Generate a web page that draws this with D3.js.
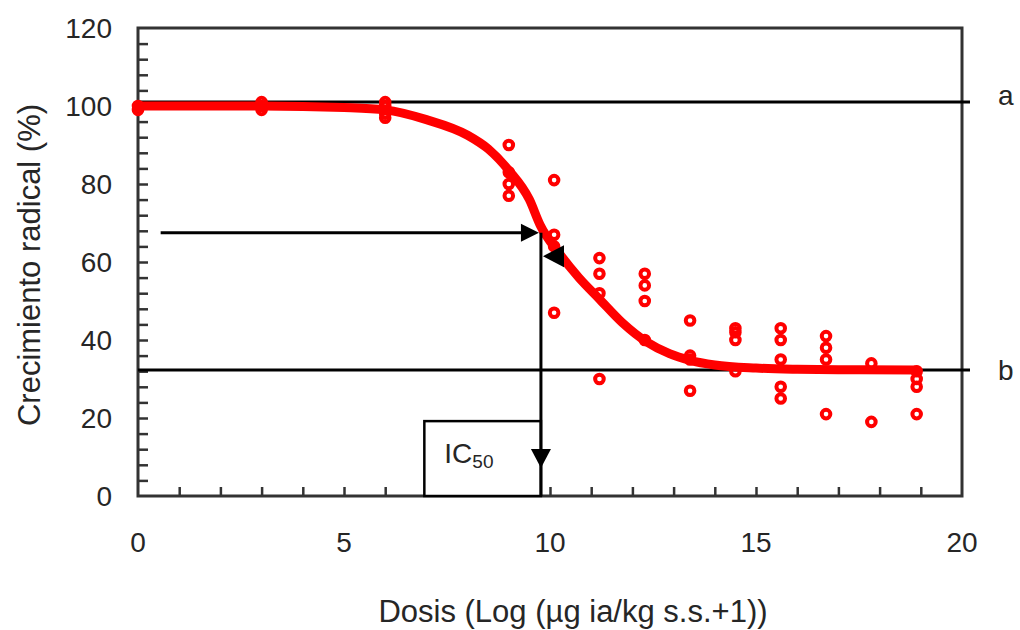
<!DOCTYPE html>
<html>
<head>
<meta charset="utf-8">
<script src="https://cdnjs.cloudflare.com/ajax/libs/d3/7.8.5/d3.min.js"></script>
<style>
  body { margin: 0; background: #fff; }
  svg text { font-family: "Liberation Sans", Arial, sans-serif; fill: #262626; }
</style>
</head>
<body>
<svg id="chart" width="1020" height="630"></svg>
<script>
var pointX = [0, 0, 3, 3, 3, 6, 6, 6, 6,
              9, 9, 9, 9,
              10.1, 10.1, 10.1, 10.1,
              11.2, 11.2, 11.2, 11.2,
              12.3, 12.3, 12.3, 12.3,
              13.4, 13.4, 13.4, 13.4,
              14.5, 14.5, 14.5, 14.5,
              15.6, 15.6, 15.6, 15.6, 15.6,
              16.7, 16.7, 16.7, 16.7,
              17.8, 17.8,
              18.9, 18.9, 18.9, 18.9];
var pointY = [100, 99, 101, 100, 99, 101, 100, 98, 97,
              90, 83, 80, 77,
              81, 67, 64, 47,
              61, 57, 52, 30,
              57, 54, 50, 40,
              45, 36, 35, 27,
              43, 42, 40, 32,
              43, 40, 35, 28, 25,
              41, 38, 35, 21,
              34, 19,
              32, 30, 28, 21];

// fitted dose-response curve
var curveX = [0, 3, 5, 6, 7, 8, 8.5, 9, 9.5, 9.76, 10.24, 10.7, 11.2, 11.75, 12.35, 12.9, 13.4, 14, 15, 16, 17, 18.9];
var curveY = [100, 100, 99.6, 99, 96.5, 92.5, 89, 83.5, 76, 69.5, 62, 56, 50.5, 44.5, 39.5, 36.5, 34.8, 33.6, 32.8, 32.5, 32.4, 32.3];

var xTicks = [0, 5, 10, 15, 20];
var yTicks = [0, 20, 40, 60, 80, 100, 120];

var levelA = 101, levelB = 32.3;
var ic50X = 9.78, ic50Y = 67.5;

var margin = {top: 28, right: 58, bottom: 134, left: 138},
    width = 1020 - margin.left - margin.right,
    height = 630 - margin.top - margin.bottom;

var svg = d3.select("#chart");
var g = svg.append("g")
  .attr("transform", "translate(" + margin.left + "," + margin.top + ")");

var x = d3.scaleLinear().domain([0, 20]).range([0, width]);
var y = d3.scaleLinear().domain([0, 120]).range([height, 0]);

// minor ticks inside the frame
g.append("g")
  .call(d3.axisBottom(x).tickValues(d3.range(1, 20)).tickSize(-9).tickFormat(""))
  .attr("transform", "translate(0," + height + ")")
  .call(function(a){ a.select(".domain").remove(); })
  .selectAll("line").attr("stroke", "#333").attr("stroke-width", 2.5);

g.append("g")
  .call(d3.axisLeft(y).tickValues(d3.range(4, 120, 4)).tickSize(-10).tickFormat(""))
  .call(function(a){ a.select(".domain").remove(); })
  .selectAll("line").attr("stroke", "#333").attr("stroke-width", 2.5);

// tick labels
g.selectAll(".xlab")
  .data(xTicks)
  .join("text")
    .attr("class", "xlab")
    .attr("x", function(d){ return x(d); })
    .attr("y", height + 56)
    .attr("text-anchor", "middle")
    .style("font-size", "28px")
    .text(function(d){ return d; });

g.selectAll(".ylab")
  .data(yTicks)
  .join("text")
    .attr("class", "ylab")
    .attr("x", -26)
    .attr("y", function(d){ return y(d) + 10; })
    .attr("text-anchor", "end")
    .style("font-size", "28px")
    .text(function(d){ return d; });

// frame
g.append("rect")
  .attr("width", width)
  .attr("height", height)
  .attr("fill", "none")
  .attr("stroke", "#333")
  .attr("stroke-width", 3);

// asymptotes a and b
[levelA, levelB].forEach(function(v){
  g.append("line")
    .attr("x1", 0).attr("x2", width + 8)
    .attr("y1", y(v)).attr("y2", y(v))
    .attr("stroke", "#000")
    .attr("stroke-width", 3);
});

g.append("text")
  .attr("x", width + 36).attr("y", y(levelA) + 3)
  .style("font-size", "28px")
  .text("a");
g.append("text")
  .attr("x", width + 36).attr("y", y(levelB) + 10)
  .style("font-size", "28px")
  .text("b");

// IC50 box
var boxX0 = 6.95, boxY1 = 19.2;
g.append("rect")
  .attr("x", x(boxX0))
  .attr("y", y(boxY1))
  .attr("width", x(ic50X) - x(boxX0))
  .attr("height", y(0) - y(boxY1))
  .attr("fill", "#fff")
  .attr("stroke", "#000")
  .attr("stroke-width", 2.5);

var ic = g.append("text")
  .attr("x", x(boxX0) + 20)
  .attr("y", y(boxY1) + 42)
  .style("font-size", "28px");
ic.append("tspan").text("IC");
ic.append("tspan").attr("dy", 5).style("font-size", "19px").text("50");

// data points
g.selectAll(".pt")
  .data(pointX.map(function(d, i){ return {x: d, y: pointY[i]}; }))
  .join("circle")
    .attr("class", "pt")
    .attr("cx", function(d){ return x(d.x); })
    .attr("cy", function(d){ return y(d.y); })
    .attr("r", 4.3)
    .attr("fill", "none")
    .attr("stroke", "#f00")
    .attr("stroke-width", 4);

// fitted curve
var line = d3.line()
  .curve(d3.curveMonotoneX)
  .x(function(d, i){ return x(curveX[i]); })
  .y(function(d){ return y(d); });

g.append("path")
  .attr("d", line(curveY))
  .attr("fill", "none")
  .attr("stroke", "#f00")
  .attr("stroke-width", 9)
  .attr("stroke-linecap", "round");

// IC50 arrows
var arrowStart = 0.55;
g.append("line")
  .attr("x1", x(arrowStart)).attr("x2", x(ic50X) - 14)
  .attr("y1", y(ic50Y)).attr("y2", y(ic50Y))
  .attr("stroke", "#000").attr("stroke-width", 3);

g.append("line")
  .attr("x1", x(ic50X)).attr("x2", x(ic50X))
  .attr("y1", y(ic50Y)).attr("y2", y(0))
  .attr("stroke", "#000").attr("stroke-width", 3);

function tri(points) {
  g.append("path")
    .attr("d", "M" + points.map(function(p){ return p.join(","); }).join("L") + "Z")
    .attr("fill", "#000");
}
var ax = x(ic50X), ay = y(ic50Y);
tri([[ax - 2, ay], [ax - 20, ay - 9], [ax - 20, ay + 9]]);
var dy = y(7.2);
tri([[ax, dy], [ax - 10, dy - 19], [ax + 10, dy - 19]]);
var lx = x(9.83), ly = y(61.5);
tri([[lx, ly], [lx + 21, ly - 11], [lx + 21, ly + 11]]);

// axis titles
svg.append("text")
  .attr("x", 573)
  .attr("y", 622)
  .attr("text-anchor", "middle")
  .style("font-size", "31px")
  .text("Dosis (Log (µg ia/kg s.s.+1))");

svg.append("text")
  .attr("transform", "translate(40,265) rotate(-90)")
  .attr("text-anchor", "middle")
  .style("font-size", "31px")
  .text("Crecimiento radical (%)");
</script>
</body>
</html>
